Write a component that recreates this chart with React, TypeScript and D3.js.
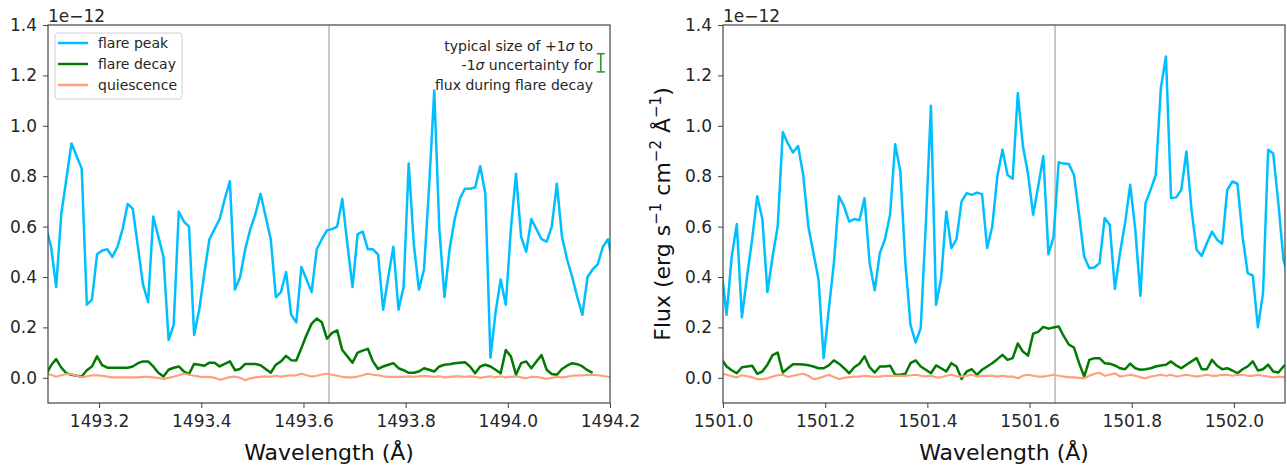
import React, { useEffect, useRef } from "react";
import * as d3 from "d3";

// ---------------- DATA ----------------
const WL_LEFT = [
  1493.096, 1493.106, 1493.116, 1493.126, 1493.136, 1493.146, 1493.156, 1493.166, 1493.176, 1493.186,
  1493.196, 1493.206, 1493.216, 1493.226, 1493.236, 1493.246, 1493.256, 1493.266, 1493.276, 1493.286,
  1493.296, 1493.306, 1493.316, 1493.326, 1493.336, 1493.346, 1493.356, 1493.366, 1493.376, 1493.386,
  1493.396, 1493.406, 1493.416, 1493.426, 1493.436, 1493.446, 1493.456, 1493.466, 1493.476, 1493.486,
  1493.496, 1493.506, 1493.516, 1493.526, 1493.536, 1493.546, 1493.556, 1493.566, 1493.576, 1493.586,
  1493.596, 1493.606, 1493.616, 1493.626, 1493.636, 1493.646, 1493.656, 1493.666, 1493.676, 1493.686,
  1493.696, 1493.706, 1493.716, 1493.726, 1493.736, 1493.746, 1493.756, 1493.766, 1493.776, 1493.786,
  1493.796, 1493.806, 1493.816, 1493.826, 1493.836, 1493.846, 1493.856, 1493.866, 1493.876, 1493.886,
  1493.896, 1493.906, 1493.916, 1493.926, 1493.936, 1493.946, 1493.956, 1493.966, 1493.976, 1493.986,
  1493.996, 1494.006, 1494.016, 1494.026, 1494.036, 1494.046, 1494.056, 1494.066, 1494.076, 1494.086,
  1494.096, 1494.106, 1494.116, 1494.126, 1494.136, 1494.146, 1494.156, 1494.166, 1494.176, 1494.186,
  1494.196, 1494.206,
];

const PEAK_LEFT = [
  0.60, 0.52, 0.36, 0.65, 0.79, 0.93, 0.88, 0.83, 0.29, 0.31,
  0.49, 0.505, 0.51, 0.48, 0.52, 0.59, 0.69, 0.67, 0.52, 0.37,
  0.30, 0.64, 0.56, 0.48, 0.15, 0.21, 0.66, 0.62, 0.60, 0.17,
  0.27, 0.415, 0.55, 0.59, 0.63, 0.71, 0.78, 0.35, 0.40, 0.51,
  0.59, 0.65, 0.73, 0.64, 0.55, 0.32, 0.34, 0.42, 0.25, 0.22,
  0.44, 0.39, 0.34, 0.51, 0.55, 0.585, 0.59, 0.60, 0.71, 0.53,
  0.36, 0.57, 0.58, 0.51, 0.51, 0.49, 0.27, 0.40, 0.52, 0.27,
  0.36, 0.85, 0.53, 0.35, 0.43, 0.76, 1.14, 0.59, 0.32, 0.51,
  0.63, 0.71, 0.75, 0.75, 0.755, 0.84, 0.73, 0.08, 0.26, 0.39,
  0.29, 0.59, 0.81, 0.56, 0.50, 0.63, 0.59, 0.55, 0.54, 0.60,
  0.77, 0.56, 0.47, 0.40, 0.32, 0.25, 0.40, 0.43, 0.45, 0.52,
  0.55, 0.45,
];

const DECAY_LEFT = [
  0.01, 0.05, 0.074, 0.04, 0.018, 0.012, 0.008, 0.005, 0.03, 0.045,
  0.085, 0.05, 0.04, 0.04, 0.04, 0.04, 0.04, 0.045, 0.058, 0.065,
  0.065, 0.045, 0.02, 0.005, 0.032, 0.04, 0.045, 0.025, 0.015, 0.055,
  0.052, 0.048, 0.06, 0.06, 0.045, 0.055, 0.065, 0.03, 0.035, 0.055,
  0.055, 0.055, 0.05, 0.035, 0.02, 0.052, 0.065, 0.087, 0.07, 0.069,
  0.118, 0.17, 0.215, 0.235, 0.22, 0.155, 0.178, 0.188, 0.11, 0.085,
  0.06, 0.10, 0.108, 0.115, 0.065, 0.035, 0.045, 0.052, 0.058, 0.038,
  0.03, 0.02, 0.02, 0.025, 0.038, 0.032, 0.025, 0.045, 0.052, 0.054,
  0.058, 0.06, 0.062, 0.045, 0.018, 0.045, 0.052, 0.045, 0.032, 0.018,
  0.11, 0.085, 0.012, 0.058, 0.065, 0.038, 0.065, 0.09, 0.032, 0.015,
  0.012, 0.035, 0.048, 0.058, 0.054, 0.045, 0.03, 0.02,
];

const QUIET_LEFT = [
  0.015, 0.012, 0.004, 0.01, 0.015, 0.014, 0.008, 0.003, 0.006, 0.01,
  0.01, 0.008, 0.005, 0.002, 0.002, 0.002, 0.002, 0.002, 0.002, 0.004,
  0.004, 0.002, 0.0, -0.004, 0.0, 0.004, 0.01, 0.016, 0.012, 0.008,
  0.005, 0.003, 0.004, 0.0, -0.008, -0.003, 0.003, 0.005, 0.0, -0.01,
  -0.002, 0.002, 0.004, 0.006, 0.004, 0.008, 0.005, 0.008, 0.01, 0.01,
  0.016, 0.01, 0.005, 0.008, 0.013, 0.016, 0.012, 0.008, 0.004, 0.002,
  0.002, 0.005, 0.01, 0.016, 0.012, 0.01, 0.006, 0.004, 0.004, 0.004,
  0.004, 0.006, 0.004, 0.006, 0.008, 0.006, 0.004, 0.006, 0.002, 0.004,
  0.006, 0.006, 0.004, 0.006, 0.004, 0.0, 0.004, 0.006, 0.002, 0.006,
  0.002, 0.004, 0.006, 0.002, -0.002, 0.004, 0.004, 0.0, -0.004, 0.0,
  0.004, 0.002, 0.004, 0.008, 0.01, 0.01, 0.012, 0.012, 0.01, 0.008,
  0.004, 0.004,
];

const WL_RIGHT = [
  1500.997, 1501.007, 1501.017, 1501.027, 1501.037, 1501.047, 1501.057, 1501.067, 1501.077, 1501.087,
  1501.097, 1501.107, 1501.117, 1501.127, 1501.137, 1501.147, 1501.157, 1501.167, 1501.177, 1501.187,
  1501.197, 1501.207, 1501.217, 1501.227, 1501.237, 1501.247, 1501.257, 1501.267, 1501.277, 1501.287,
  1501.297, 1501.307, 1501.317, 1501.327, 1501.337, 1501.347, 1501.357, 1501.367, 1501.377, 1501.387,
  1501.397, 1501.407, 1501.417, 1501.427, 1501.437, 1501.447, 1501.457, 1501.467, 1501.477, 1501.487,
  1501.497, 1501.507, 1501.517, 1501.527, 1501.537, 1501.547, 1501.557, 1501.567, 1501.577, 1501.587,
  1501.597, 1501.607, 1501.617, 1501.627, 1501.637, 1501.647, 1501.657, 1501.667, 1501.677, 1501.687,
  1501.697, 1501.707, 1501.717, 1501.727, 1501.737, 1501.747, 1501.757, 1501.767, 1501.777, 1501.787,
  1501.797, 1501.807, 1501.817, 1501.827, 1501.837, 1501.847, 1501.857, 1501.867, 1501.877, 1501.887,
  1501.897, 1501.907, 1501.917, 1501.927, 1501.937, 1501.947, 1501.957, 1501.967, 1501.977, 1501.987,
  1501.997, 1502.007, 1502.017, 1502.027, 1502.037, 1502.047, 1502.057, 1502.067, 1502.077, 1502.087,
  1502.097, 1502.107,
];

const PEAK_RIGHT = [
  0.43, 0.25, 0.48, 0.61, 0.24, 0.40, 0.55, 0.72, 0.63, 0.34,
  0.48, 0.60, 0.975, 0.93, 0.894, 0.92, 0.805, 0.60, 0.495, 0.39,
  0.078, 0.27, 0.455, 0.72, 0.68, 0.62, 0.63, 0.625, 0.713, 0.455,
  0.347, 0.495, 0.55, 0.647, 0.927, 0.82, 0.455, 0.21, 0.14, 0.197,
  0.61, 1.08, 0.29, 0.395, 0.66, 0.515, 0.55, 0.70, 0.733, 0.726,
  0.735, 0.729, 0.515, 0.60, 0.80, 0.905, 0.805, 0.79, 1.13, 0.92,
  0.81, 0.647, 0.76, 0.88, 0.49, 0.56, 0.855, 0.85, 0.848, 0.805,
  0.647, 0.48, 0.435, 0.438, 0.455, 0.634, 0.607, 0.352, 0.495, 0.614,
  0.766, 0.587, 0.325, 0.693, 0.746, 0.805, 1.15, 1.275, 0.713, 0.716,
  0.746, 0.898, 0.667, 0.508, 0.484, 0.534, 0.58, 0.548, 0.532, 0.746,
  0.779, 0.77, 0.56, 0.415, 0.405, 0.20, 0.336, 0.905, 0.89, 0.693,
  0.468, 0.40,
];

const DECAY_RIGHT = [
  0.075, 0.045, 0.03, 0.018, 0.042, 0.045, 0.048, 0.016, 0.025, 0.052,
  0.09, 0.10, 0.021, 0.038, 0.054, 0.054, 0.053, 0.05, 0.045, 0.038,
  0.038, 0.049, 0.069, 0.056, 0.038, 0.018, 0.042, 0.056, 0.085, 0.042,
  0.021, 0.045, 0.045, 0.048, 0.012, 0.012, 0.016, 0.058, 0.069, 0.045,
  0.032, 0.018, 0.049, 0.038, 0.025, 0.058, 0.045, -0.005, 0.025, 0.034,
  0.012, 0.032, 0.045, 0.058, 0.074, 0.091, 0.071, 0.078, 0.136, 0.104,
  0.088, 0.175, 0.182, 0.202, 0.195, 0.2, 0.204, 0.165, 0.132, 0.12,
  0.058, 0.005, 0.071, 0.078, 0.078, 0.058, 0.056, 0.049, 0.038, 0.034,
  0.056, 0.038, 0.032, 0.034, 0.038, 0.045, 0.049, 0.052, 0.065, 0.049,
  0.038, 0.052, 0.065, 0.078, 0.034, 0.034, 0.071, 0.048, 0.034, 0.038,
  0.029, 0.018, 0.034, 0.045, 0.065, 0.029, 0.034, 0.052, 0.025, 0.021,
  0.045, 0.06,
];

const QUIET_RIGHT = [
  0.016, 0.012, 0.006, 0.002, 0.01, 0.006, 0.002, -0.005, -0.005, -0.002,
  0.005, 0.01, 0.012, 0.003, 0.008, 0.012, 0.016, 0.008, -0.005, -0.002,
  0.005, 0.012, 0.003, -0.005, 0.0, 0.003, 0.005, 0.005, 0.008, 0.006,
  0.005, 0.005, 0.008, 0.008, 0.008, 0.008, 0.008, 0.01, 0.012, 0.008,
  0.006, 0.008, 0.002, 0.002, 0.008, 0.012, 0.006, 0.005, 0.008, 0.012,
  0.005, 0.008, 0.008, 0.008, 0.005, 0.008, 0.005, 0.005, -0.002, 0.008,
  0.012, 0.008, 0.005, 0.005, 0.008, 0.012, 0.008, 0.005, 0.002, 0.002,
  0.0, -0.002, 0.008, 0.016, 0.02, 0.008, 0.012, 0.018, 0.005, 0.008,
  0.012, 0.008, 0.002, -0.002, 0.005, 0.008, 0.012, 0.008, 0.012, 0.005,
  0.008, 0.012, 0.008, 0.005, 0.008, 0.012, 0.008, 0.008, 0.012, 0.012,
  0.008, 0.012, 0.012, 0.008, 0.008, 0.012, 0.008, 0.005, 0.002, 0.005,
  0.003, 0.003,
];

const SERIES_NAMES = ["flare peak", "flare decay", "quiescence"];
const SERIES_COLORS = ["#00bfff", "#007a00", "#ffa07a"];
const Y_TICKS = [0.0, 0.2, 0.4, 0.6, 0.8, 1.0, 1.2, 1.4];
const X_TICKS_LEFT = [1493.2, 1493.4, 1493.6, 1493.8, 1494.0, 1494.2];
const X_TICKS_RIGHT = [1501.0, 1501.2, 1501.4, 1501.6, 1501.8, 1502.0];
const MARKER_LEFT = 1493.65;
const MARKER_RIGHT = 1501.65;
const ERRBAR = { wl: 1494.182, value: 1.25, err: 0.036 };
const NOTE_LINES = ["typical size of +1σ to", "-1σ uncertainty for", "flux during flare decay"];

// ---------------- CHART ----------------
const W = 1287;
const H = 470;
const TOP = 25;
const BOTTOM = 403;
const FONT = "DejaVu Sans, Verdana, sans-serif";
const TXT = "#262626";
const SPINE = "#444";

export default function App() {
  const ref = useRef<SVGSVGElement>(null);

  useEffect(() => {
    document.body.style.margin = "0";
    const svg = d3.select(ref.current);
    svg.selectAll("*").remove();

    const panels = [
      {
        left: 48, right: 610, xDomain: [1493.1, 1494.2], ticks: X_TICKS_LEFT, wl: WL_LEFT,
        series: [PEAK_LEFT, DECAY_LEFT, QUIET_LEFT], marker: MARKER_LEFT, legend: true, note: true, ylabel: false,
      },
      {
        left: 723, right: 1285, xDomain: [1501.0, 1502.1], ticks: X_TICKS_RIGHT, wl: WL_RIGHT,
        series: [PEAK_RIGHT, DECAY_RIGHT, QUIET_RIGHT], marker: MARKER_RIGHT, legend: false, note: false, ylabel: true,
      },
    ];

    panels.forEach((p, pi) => {
      const x = d3.scaleLinear().domain(p.xDomain).range([p.left, p.right]);
      const y = d3.scaleLinear().domain([-0.1, 1.4]).range([BOTTOM, TOP]);
      const g = svg.append("g");
      const clipId = `plotclip${pi}`;
      g.append("clipPath").attr("id", clipId).append("rect")
        .attr("x", p.left).attr("y", TOP).attr("width", p.right - p.left).attr("height", BOTTOM - TOP);

      // background
      g.append("rect").attr("x", p.left).attr("y", TOP).attr("width", p.right - p.left)
        .attr("height", BOTTOM - TOP).attr("fill", "#fff");

      // marker line
      g.append("line")
        .attr("x1", x(p.marker)).attr("x2", x(p.marker))
        .attr("y1", TOP).attr("y2", BOTTOM)
        .attr("stroke", "#c4c4c4").attr("stroke-width", 1.8);

      const plot = g.append("g").attr("clip-path", `url(#${clipId})`);
      p.series.forEach((vals, si) => {
        const idx = d3.range(Math.min(vals.length, p.wl.length));
        const line = d3.line<number>()
          .x((i) => x(p.wl[i]))
          .y((i) => y(vals[i]));
        plot.append("path")
          .attr("d", line(idx))
          .attr("fill", "none")
          .attr("stroke", SERIES_COLORS[si])
          .attr("stroke-width", si === 2 ? 2.2 : 2.5)
          .attr("stroke-linejoin", "round");
      });

      // axes
      const yAxis = d3.axisLeft(y).tickValues(Y_TICKS).tickFormat(d3.format(".1f"))
        .tickSize(5).tickPadding(6);
      const ya = g.append("g").attr("transform", `translate(${p.left},0)`).call(yAxis);
      const xAxis = d3.axisBottom(x).tickValues(p.ticks).tickFormat(d3.format(".1f"))
        .tickSize(5).tickPadding(7);
      const xa = g.append("g").attr("transform", `translate(0,${BOTTOM})`).call(xAxis);
      [ya, xa].forEach((a) => {
        a.select(".domain").remove();
        a.selectAll(".tick line").attr("stroke", SPINE).attr("stroke-width", 1);
        a.selectAll(".tick text").attr("fill", TXT).style("font-size", "17px").style("font-family", FONT);
      });

      // spines
      g.append("rect").attr("x", p.left).attr("y", TOP).attr("width", p.right - p.left)
        .attr("height", BOTTOM - TOP).attr("fill", "none").attr("stroke", SPINE).attr("stroke-width", 1.2);

      // offset text
      g.append("text").attr("x", p.left).attr("y", 21.5).text("1e\u221212")
        .attr("fill", TXT).style("font-size", "17px").style("font-family", FONT);

      // x label
      g.append("text").attr("x", (p.left + p.right) / 2).attr("y", 460)
        .attr("text-anchor", "middle").text("Wavelength (Å)")
        .attr("fill", "#111").style("font-size", "22px").style("font-family", FONT);

      if (p.ylabel) {
        const t = g.append("text")
          .attr("transform", `translate(670,${(TOP + BOTTOM) / 2}) rotate(-90)`)
          .attr("text-anchor", "middle").attr("fill", "#111")
          .style("font-size", "22px").style("font-family", FONT);
        const parts: [string, boolean][] = [
          ["Flux (erg s", false], ["\u22121", true], [" cm", false], ["\u22122", true],
          [" Å", false], ["\u22121", true], [")", false],
        ];
        parts.forEach(([s, sup]) => {
          const ts = t.append("tspan").text(s);
          if (sup) ts.attr("dy", "-0.45em").style("font-size", "15px");
          else ts.attr("dy", t.selectAll("tspan").size() > 1 ? "0.45em" : null);
        });
        // fix: reset baseline for tspans following a superscript
        t.selectAll("tspan").each(function (_d, i) {
          const el = d3.select(this);
          const [s, sup] = parts[i];
          if (sup) el.attr("dy", "-9px");
          else if (i > 0) el.attr("dy", "9px");
          else el.attr("dy", null);
          void s;
        });
      }

      if (p.legend) {
        const lg = g.append("g");
        lg.append("rect").attr("x", 55).attr("y", 33).attr("width", 127).attr("height", 66)
          .attr("rx", 3).attr("fill", "#fff").attr("fill-opacity", 0.85)
          .attr("stroke", "#d0d0d0").attr("stroke-width", 1);
        SERIES_NAMES.forEach((name, i) => {
          const cy = 43 + i * 21;
          lg.append("line").attr("x1", 58).attr("x2", 88).attr("y1", cy).attr("y2", cy)
            .attr("stroke", SERIES_COLORS[i]).attr("stroke-width", 2.5);
          lg.append("text").attr("x", 98).attr("y", cy).attr("dy", "0.35em").text(name)
            .attr("fill", TXT).style("font-size", "14px").style("font-family", FONT);
        });
      }

      if (p.note) {
        NOTE_LINES.forEach((line, i) => {
          const t = g.append("text").attr("x", 593).attr("y", 46 + i * 19.5).attr("dy", "0.35em")
            .attr("text-anchor", "end").attr("fill", TXT)
            .style("font-size", "14px").style("font-family", FONT);
          const parts = line.split("σ");
          parts.forEach((s, j) => {
            if (j > 0) t.append("tspan").text("σ").style("font-style", "italic");
            t.append("tspan").text(s);
          });
        });
        const ex = x(ERRBAR.wl);
        const y1 = y(ERRBAR.value + ERRBAR.err);
        const y2 = y(ERRBAR.value - ERRBAR.err);
        const eg = g.append("g").attr("stroke", "#2f9a2f").attr("stroke-width", 1.6);
        eg.append("line").attr("x1", ex).attr("x2", ex).attr("y1", y1).attr("y2", y2);
        eg.append("line").attr("x1", ex - 4).attr("x2", ex + 4).attr("y1", y1).attr("y2", y1);
        eg.append("line").attr("x1", ex - 4).attr("x2", ex + 4).attr("y1", y2).attr("y2", y2);
      }
    });
  }, []);

  return (
    <svg
      ref={ref}
      width={W}
      height={H}
      style={{ position: "absolute", left: 0, top: 0, display: "block", background: "#fff" }}
    />
  );
}
